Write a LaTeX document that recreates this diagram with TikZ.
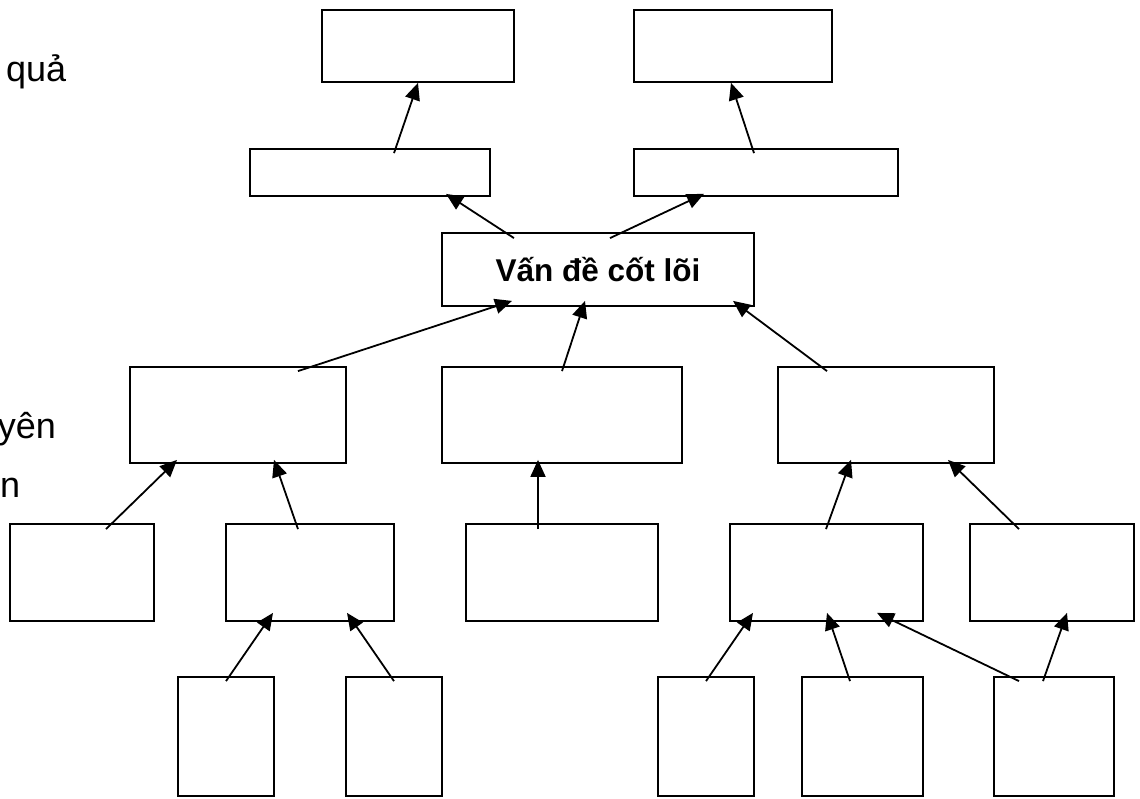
\documentclass[tikz,border=0pt]{standalone}
\usepackage{fontspec}
\setmainfont{Liberation Sans}
\usetikzlibrary{arrows.meta,calc}

\tikzset{
  box/.style={draw=black, line width=1.8pt, inner sep=0pt},
  arr/.style={black, line width=1.8pt, -{Triangle[length=17pt,width=15pt]}},
  side/.style={inner sep=0pt, font=\fontsize{36}{43}\selectfont},
}

\begin{document}
\begin{tikzpicture}[x=1pt,y=1pt]
\useasboundingbox (0,0) rectangle (1140,-799);
% side labels
\node[side, anchor=base west] (lbkq) at (6,-82) {quả};
\node[side, anchor=base east] (lbny) at (56,-438) {yên};
\node[side, anchor=base west] (lbnn) at (0,-497) {n};
% effects
\node[box, minimum width=192, minimum height=72] (t1) at (418,-46) {};
\node[box, minimum width=198, minimum height=72] (t2) at (733,-46) {};
\node[box, minimum width=240, minimum height=47] (s1) at (370,-172.5) {};
\node[box, minimum width=264, minimum height=47] (s2) at (766,-172.5) {};
% core
\node[box, minimum width=312, minimum height=73, font=\fontsize{31.5}{38}\selectfont\bfseries] (core) at (598,-269.5) {Vấn đề cốt lõi};
% causes
\node[box, minimum width=216, minimum height=96] (m1) at (238,-415) {};
\node[box, minimum width=240, minimum height=96] (m2) at (562,-415) {};
\node[box, minimum width=216, minimum height=96] (m3) at (886,-415) {};
\node[box, minimum width=144, minimum height=97] (l1) at (82,-572.5) {};
\node[box, minimum width=168, minimum height=97] (l2) at (310,-572.5) {};
\node[box, minimum width=192, minimum height=97] (l3) at (562,-572.5) {};
\node[box, minimum width=193, minimum height=97] (l4) at (826.5,-572.5) {};
\node[box, minimum width=164, minimum height=97] (l5) at (1052,-572.5) {};
\node[box, minimum width=96, minimum height=119] (b1) at (226,-736.5) {};
\node[box, minimum width=96, minimum height=119] (b2) at (394,-736.5) {};
\node[box, minimum width=96, minimum height=119] (b3) at (706,-736.5) {};
\node[box, minimum width=121, minimum height=119] (b4) at (862.5,-736.5) {};
\node[box, minimum width=120, minimum height=119] (b5) at (1054,-736.5) {};
% arrows up the tree
\draw[arr] ($(s1.north)+(24,-5)$) -- ($(t1.south)+(0,0)$);
\draw[arr] ($(s2.north)+(-12,-5)$) -- ($(t2.south)+(-2,0)$);
\draw[arr] ($(core.north)+(-84,-6)$) -- ($(s1.south)+(76,3)$);
\draw[arr] ($(core.north)+(12,-6)$) -- ($(s2.south)+(-62,3)$);
\draw[arr] ($(m1.north)+(60,-5)$) -- ($(core.south)+(-86,6)$);
\draw[arr] ($(m2.north)+(0,-5)$) -- ($(core.south)+(-13,6)$);
\draw[arr] ($(m3.north)+(-59,-5)$) -- ($(core.south)+(135,6)$);
\draw[arr] ($(l1.north)+(24,-6)$) -- ($(m1.south)+(-61,4)$);
\draw[arr] ($(l2.north)+(-12,-6)$) -- ($(m1.south)+(36,4)$);
\draw[arr] ($(l3.north)+(-24,-6)$) -- ($(m2.south)+(-24,4)$);
\draw[arr] ($(l4.north)+(-0.5,-6)$) -- ($(m3.south)+(-35,4)$);
\draw[arr] ($(l5.north)+(-33,-6)$) -- ($(m3.south)+(62,4)$);
\draw[arr] ($(b1.north)+(0,-5)$) -- ($(l2.south)+(-37,9)$);
\draw[arr] ($(b2.north)+(0,-5)$) -- ($(l2.south)+(37,9)$);
\draw[arr] ($(b3.north)+(0,-5)$) -- ($(l4.south)+(-73.5,9)$);
\draw[arr] ($(b4.north)+(-12.5,-5)$) -- ($(l4.south)+(0.5,9)$);
\draw[arr] ($(b5.north)+(-35,-5)$) -- ($(l4.south)+(50.5,9)$);
\draw[arr] ($(b5.north)+(-11,-5)$) -- ($(l5.south)+(15,9)$);
\end{tikzpicture}
\end{document}
